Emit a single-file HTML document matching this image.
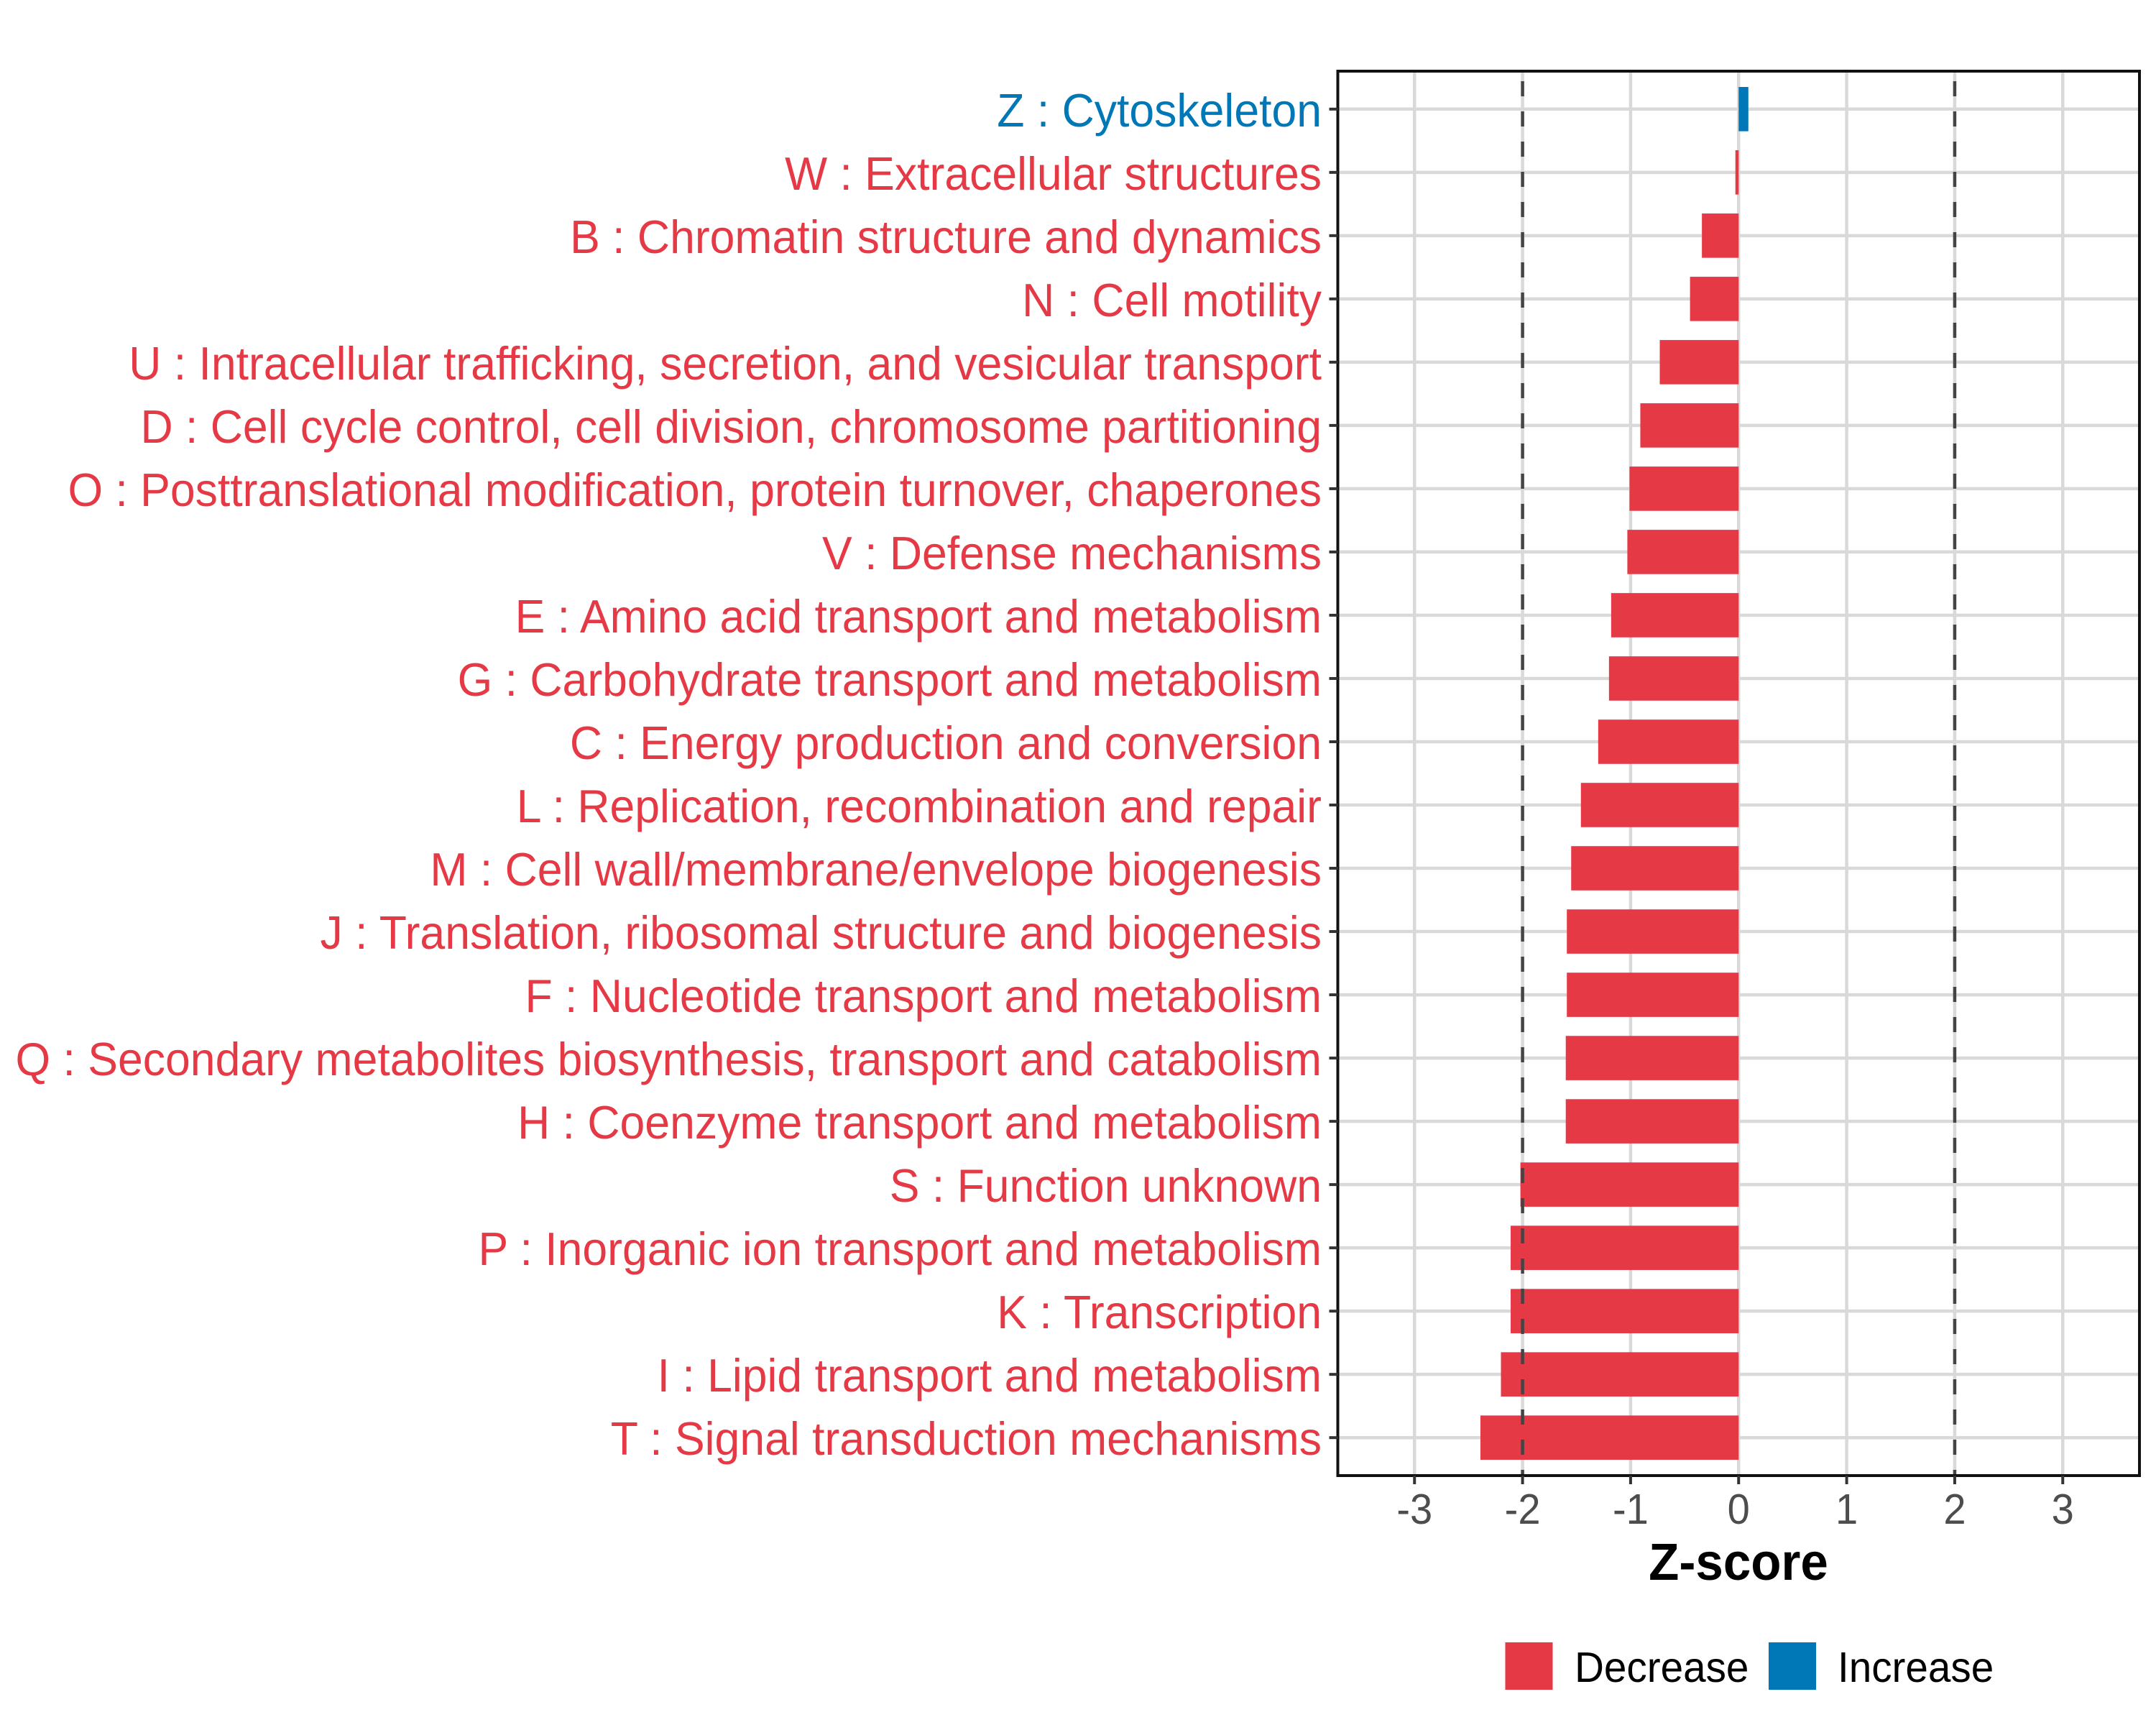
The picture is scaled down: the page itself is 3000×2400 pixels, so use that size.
<!DOCTYPE html>
<html><head><meta charset="utf-8"><style>
html,body{margin:0;padding:0;background:#fff;}
svg{display:block;font-family:"Liberation Sans",Arial,sans-serif;}
</style></head><body>
<svg id="chart" width="3000" height="2400" viewBox="0 0 3000 2400" xmlns="http://www.w3.org/2000/svg">
<rect width="3000" height="2400" fill="#fff"/>
<g id="grid"></g>
<g id="bars"></g>
<g id="refs"></g>
<rect x="1861.5" y="99" width="1115.5" height="1954" fill="none" stroke="#111" stroke-width="4"/>
<g id="ylabels"></g>
<g id="xaxis"></g>
<text x="2419" y="2198" font-size="72" font-weight="bold" text-anchor="middle" fill="#000" transform="translate(2419 0) scale(0.96 1) translate(-2419 0)">Z-score</text>
<g>
  <rect x="2094.5" y="2285" width="66" height="66" fill="#E63946"/>
  <text x="0" y="2340" font-size="59" fill="#000" transform="translate(2191 0) scale(0.96 1)">Decrease</text>
  <rect x="2461" y="2285" width="66" height="66" fill="#0077B6"/>
  <text x="0" y="2340" font-size="59" fill="#000" transform="translate(2557 0) scale(0.96 1)">Increase</text>
</g>
</svg>
<script>
const categories = [
"Z : Cytoskeleton",
"W : Extracellular structures",
"B : Chromatin structure and dynamics",
"N : Cell motility",
"U : Intracellular trafficking, secretion, and vesicular transport",
"D : Cell cycle control, cell division, chromosome partitioning",
"O : Posttranslational modification, protein turnover, chaperones",
"V : Defense mechanisms",
"E : Amino acid transport and metabolism",
"G : Carbohydrate transport and metabolism",
"C : Energy production and conversion",
"L : Replication, recombination and repair",
"M : Cell wall/membrane/envelope biogenesis",
"J : Translation, ribosomal structure and biogenesis",
"F : Nucleotide transport and metabolism",
"Q : Secondary metabolites biosynthesis, transport and catabolism",
"H : Coenzyme transport and metabolism",
"S : Function unknown",
"P : Inorganic ion transport and metabolism",
"K : Transcription",
"I : Lipid transport and metabolism",
"T : Signal transduction mechanisms"
];
const zscores = [0.09,-0.03,-0.34,-0.45,-0.73,-0.91,-1.01,-1.03,-1.18,-1.20,-1.30,-1.46,-1.55,-1.59,-1.59,-1.60,-1.60,-2.02,-2.11,-2.11,-2.20,-2.39];
const xTicks = [-3,-2,-1,0,1,2,3];
const xTickLabels = ["-3","-2","-1","0","1","2","3"];
const refLines = [-2,2];

const NS = "http://www.w3.org/2000/svg";
const PL = 1861.5, PR = 2977, PT = 99, PB = 2053;
const XMIN = -3.71, XMAX = 3.71;
const x = v => PL + (v - XMIN) / (XMAX - XMIN) * (PR - PL);
const n = categories.length;
const step = (PB - PT) / (n - 1 + 1.2);
const y = i => PT + step * (0.6 + i);
const RED = "#E63946", BLUE = "#0077B6";
function mk(tag, attrs, parent){ const e=document.createElementNS(NS,tag); for(const k in attrs) e.setAttribute(k,attrs[k]); parent.appendChild(e); return e; }

const grid = document.getElementById('grid');
for (let i=0;i<n;i++){
  const l = mk('line',{x1:PL,x2:PR,y1:y(i),y2:y(i),stroke:'#d9d9d9','stroke-width':4.5},grid);
  
  
}
xTicks.forEach(t=>{
  const l = mk('line',{x1:x(t),x2:x(t),y1:PT,y2:PB,stroke:'#d9d9d9','stroke-width':4.5},grid);
  
  
});

const bars = document.getElementById('bars');
const bh = step*0.7;
zscores.forEach((v,i)=>{
  const x0 = Math.min(x(0),x(v)), w = Math.abs(x(v)-x(0));
  const r = mk('rect',{x:x0,y:y(i)-bh/2,width:Math.max(w,1),height:bh,fill:v>=0?BLUE:RED},bars);
  
  
});

const refs = document.getElementById('refs');
refLines.forEach(v=>{
  const l = mk('line',{x1:x(v),x2:x(v),y1:PT,y2:PB,stroke:'#444','stroke-width':4.5,'stroke-dasharray':'21 21','stroke-dashoffset':'-14'},refs);
  
  
});

const yl = document.getElementById('ylabels');
categories.forEach((c,i)=>{
  const tk = mk('line',{x1:PL-12,x2:PL,y1:y(i),y2:y(i),stroke:'#333','stroke-width':4},yl);
  
  
  const t = mk('text',{x:0,y:0,'font-size':65,'text-anchor':'end',fill:zscores[i]>=0?BLUE:RED,transform:'translate(1839 '+(y(i)+24)+') scale(0.962 1)'},yl);
  t.textContent = c;
  
  
});

const xa = document.getElementById('xaxis');
xTicks.forEach((t,k)=>{
  const tk = mk('line',{x1:x(t),x2:x(t),y1:PB,y2:PB+12,stroke:'#333','stroke-width':4},xa);
  
  
  const tx = mk('text',{x:0,y:0,'font-size':59,'text-anchor':'middle',fill:'#4d4d4d',transform:'translate('+x(t)+' 2120) scale(0.95 1)'},xa);
  tx.textContent = xTickLabels[k];
  
  
});
</script>
</body></html>
